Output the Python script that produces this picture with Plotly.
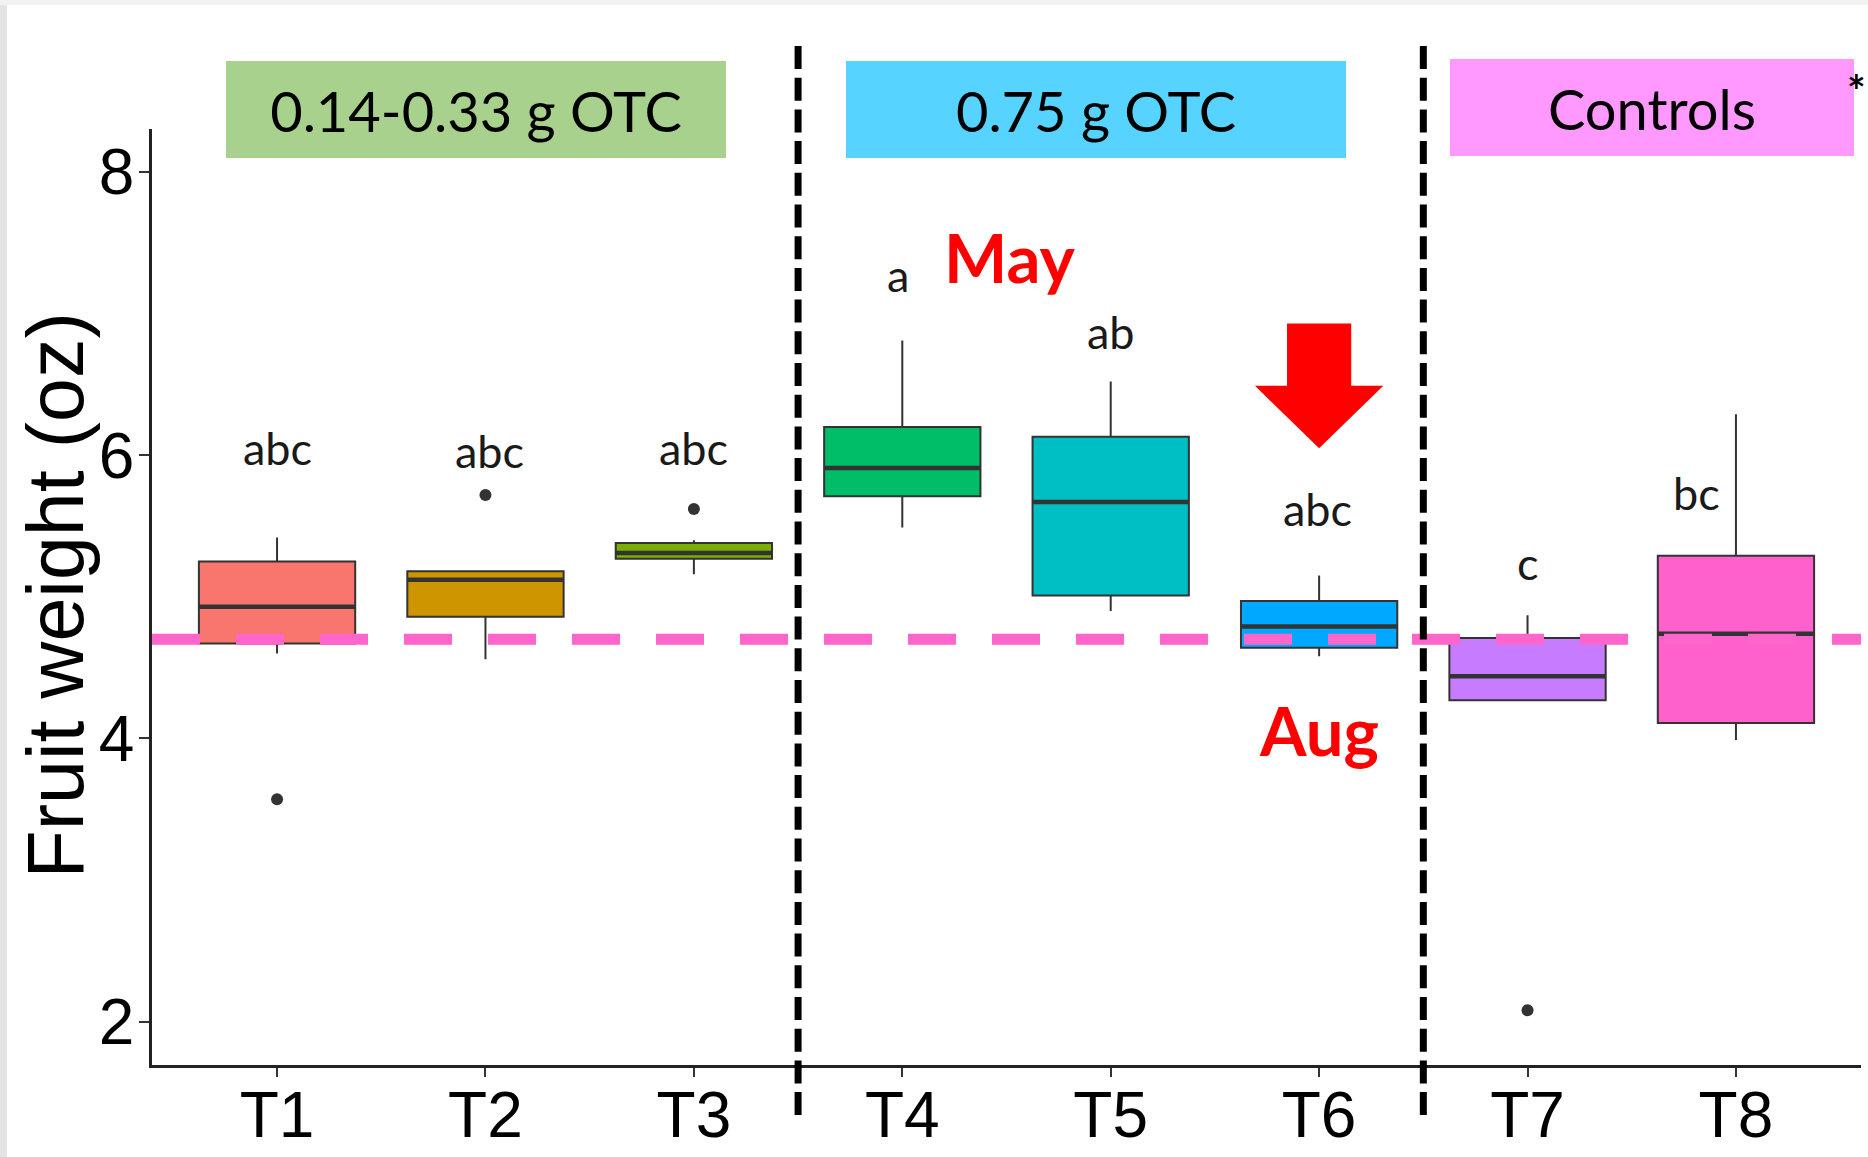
import plotly.graph_objects as go

# ---------------- data ----------------
categories = ["T1", "T2", "T3", "T4", "T5", "T6", "T7", "T8"]
lower_whisker = [4.60, 4.56, 5.16, 5.49, 4.90, 4.58, 4.27, 3.99]
q1_vals = [4.67, 4.86, 5.27, 5.71, 5.01, 4.64, 4.27, 4.11]
median_vals = [4.93, 5.12, 5.31, 5.91, 5.67, 4.79, 4.44, 4.74]
q3_vals = [5.25, 5.18, 5.38, 6.20, 6.13, 4.97, 4.71, 5.29]
upper_whisker = [5.42, 5.18, 5.40, 6.81, 6.52, 5.15, 4.87, 6.29]
box_colors = ["#F8766D", "#CD9600", "#7CAE00", "#00BE67",
              "#00BFC4", "#00A9FF", "#C77CFF", "#FF61CC"]

outlier_cats = ["T1", "T2", "T3", "T7"]
outlier_vals = [3.57, 5.72, 5.62, 2.08]

letter_text = ["abc", "abc", "abc", "a", "ab", "abc", "c", "bc"]
letter_x = [1.0, 2.02, 3.0, 3.98, 5.0, 5.99, 7.0, 7.81]
letter_y = [6.05, 6.03, 6.05, 7.27, 6.87, 5.62, 5.24, 5.73]

reference_line = 4.70
dividers = [3.5, 6.5]

group_labels = ["0.14-0.33 g OTC", "0.75 g OTC", "Controls"]
group_colors = ["#A9D18E", "#56D3FE", "#FF99FF"]

y_ticks = [2, 4, 6, 8]
y_title = "Fruit weight (oz)"

# ---------------- layout geometry ----------------
W, H = 1868, 1157
ML, MR, MT, MB = 152, 7, 129, 92
PW, PH = W - ML - MR, H - MT - MB


def px_x(p):
    return (p - ML) / PW


def px_y(p):
    return (H - MB - p) / PH


xpos = list(range(1, len(categories) + 1))
BOX_W = 0.75

fig = go.Figure()

for i, cat in enumerate(categories):
    fig.add_trace(go.Box(
        x=[xpos[i]], q1=[q1_vals[i]], median=[median_vals[i]], q3=[q3_vals[i]],
        lowerfence=[lower_whisker[i]], upperfence=[upper_whisker[i]],
        fillcolor=box_colors[i], line=dict(color="#333333", width=2),
        whiskerwidth=0, width=BOX_W, boxpoints=False, showlegend=False,
        hoverinfo="skip", name=cat))

# thicker median bars (ggplot style)
mx, my = [], []
for i in range(len(categories)):
    mx += [xpos[i] - BOX_W / 2, xpos[i] + BOX_W / 2, None]
    my += [median_vals[i], median_vals[i], None]
fig.add_trace(go.Scatter(x=mx, y=my, mode="lines",
                         line=dict(color="#333333", width=4.5),
                         showlegend=False, hoverinfo="skip"))

fig.add_trace(go.Scatter(
    x=[xpos[categories.index(c)] for c in outlier_cats], y=outlier_vals,
    mode="markers", marker=dict(color="#333333", size=12),
    showlegend=False, hoverinfo="skip"))

shapes = []
# screenshot gray edges
shapes.append(dict(type="rect", xref="paper", yref="paper", layer="below",
                   x0=px_x(0), x1=px_x(7), y0=px_y(H), y1=px_y(0),
                   fillcolor="#E4E4E4", line=dict(width=0)))
shapes.append(dict(type="rect", xref="paper", yref="paper", layer="below",
                   x0=px_x(0), x1=px_x(W), y0=px_y(5), y1=px_y(0),
                   fillcolor="#F2F2F2", line=dict(width=0)))

# pink reference line
shapes.append(dict(type="line", xref="paper", yref="y", x0=0, x1=1,
                   y0=reference_line, y1=reference_line,
                   line=dict(color="#FF66CC", width=11, dash="48px,36px")))

# black dashed dividers
for d in dividers:
    shapes.append(dict(type="line", xref="x", yref="paper", x0=d, x1=d,
                       y0=px_y(46), y1=px_y(1121),
                       line=dict(color="black", width=7, dash="23px,8.7px")))

# group header boxes
header_px = [(226, 726, 61, 158), (846, 1346, 61, 158), (1450, 1854, 59, 156)]
for (x0, x1, y0, y1), lab, col in zip(header_px, group_labels, group_colors):
    shapes.append(dict(type="rect", xref="paper", yref="paper",
                       x0=px_x(x0), x1=px_x(x1), y0=px_y(y1), y1=px_y(y0),
                       fillcolor=col, line=dict(width=0),
                       label=dict(text=lab, textposition="middle center",
                                  font=dict(family="Lato", size=56, color="black"))))

# red arrow (decoration above T6)
ax_c, a_top, a_neck, a_tip, s_half, h_half = 6.0, 6.93, 6.49, 6.05, 0.154, 0.308
arrow_path = (f"M {ax_c - s_half},{a_top} L {ax_c + s_half},{a_top} "
              f"L {ax_c + s_half},{a_neck} L {ax_c + h_half},{a_neck} "
              f"L {ax_c},{a_tip} L {ax_c - h_half},{a_neck} "
              f"L {ax_c - s_half},{a_neck} Z")
shapes.append(dict(type="path", xref="x", yref="y", path=arrow_path,
                   fillcolor="#FF0000", line=dict(width=0)))

annotations = []
for t, x, y in zip(letter_text, letter_x, letter_y):
    annotations.append(dict(x=x, y=y, xref="x", yref="y", text=t, showarrow=False,
                            xanchor="center", yanchor="middle",
                            font=dict(family="Lato", size=45, color="#1a1a1a")))

annotations.append(dict(x=4.515, y=7.40, xref="x", yref="y", text="<b>May</b>",
                        showarrow=False, xanchor="center", yanchor="middle",
                        font=dict(family="Lato", size=67, color="#FF0000")))
annotations.append(dict(x=6.0, y=4.06, xref="x", yref="y", text="<b>Aug</b>",
                        showarrow=False, xanchor="center", yanchor="middle",
                        font=dict(family="Lato", size=67, color="#FF0000")))

annotations.append(dict(x=px_x(56), y=0.5015, xref="paper", yref="paper",
                        text=y_title, textangle=-90, showarrow=False,
                        xanchor="center", yanchor="middle",
                        font=dict(family="Liberation Sans, Arial", size=79, color="black")))

annotations.append(dict(x=px_x(1868), y=px_y(90), xref="paper", yref="paper",
                        text="<b>*</b>", showarrow=False, xanchor="right", yanchor="middle",
                        font=dict(family="Lato", size=44, color="black")))

axis_font = dict(family="Liberation Sans, Arial", size=64, color="black")

fig.update_layout(
    width=W, height=H,
    margin=dict(l=ML, r=MR, t=MT, b=MB, pad=0, autoexpand=False),
    paper_bgcolor="white", plot_bgcolor="white",
    showlegend=False,
    shapes=shapes, annotations=annotations,
    xaxis=dict(range=[0.4, 8.6], tickmode="array", tickvals=xpos, ticktext=categories,
               showline=True, linecolor="#222222", linewidth=2.5,
               ticks="outside", ticklen=9, tickwidth=2, tickcolor="#333333",
               tickfont=axis_font, showgrid=False, zeroline=False,
               automargin=False, ticklabelstandoff=-17),
    yaxis=dict(range=[1.694, 8.304], tickmode="array", tickvals=y_ticks,
               showline=True, linecolor="#222222", linewidth=2.5,
               ticks="outside", ticklen=10, tickwidth=2, tickcolor="#333333",
               tickfont=axis_font, showgrid=False, zeroline=False,
               automargin=False, ticklabelstandoff=-8),
)

fig.write_html("out.html",
               config={"displayModeBar": False},
               post_script="document.body.style.margin='0';"
                           "document.body.style.overflow='hidden';")
